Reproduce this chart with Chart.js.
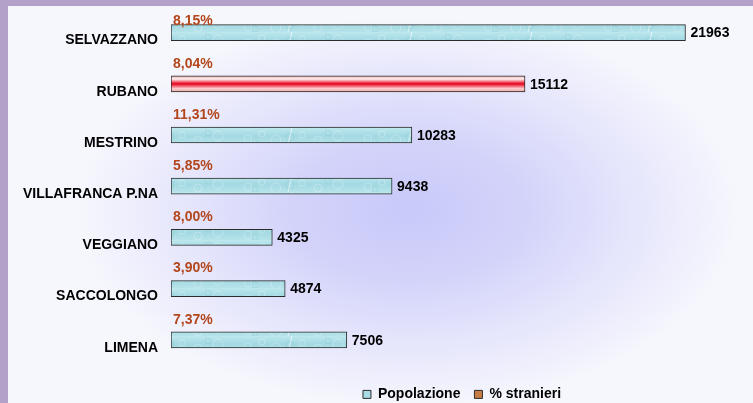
<!DOCTYPE html>
<html>
<head>
<meta charset="utf-8">
<script src="https://cdn.jsdelivr.net/npm/chart.js@4/dist/chart.umd.min.js"></script>
<style>
  html, body { margin: 0; padding: 0; width: 753px; height: 403px; overflow: hidden; background: #b3a1c9; }
  #panel {
    position: absolute; left: 8px; top: 6px; right: 0; bottom: 0;
    background: radial-gradient(ellipse 330px 195px at 400px 205px, #c9c9fa 0%, #d3d3fa 35%, #e4e4fc 65%, #f6f6fd 100%);
  }
  #chart { position: absolute; left: 0; top: 0; }
</style>
</head>
<body>
<div id="panel"></div>
<canvas id="chart" width="753" height="403"></canvas>
<script>
// dati
const categories = ["SELVAZZANO", "RUBANO", "MESTRINO", "VILLAFRANCA P.NA", "VEGGIANO", "SACCOLONGO", "LIMENA"];
const popolazione = [21963, 15112, 10283, 9438, 4325, 4874, 7506];
const stranieri = [8.15, 8.04, 11.31, 5.85, 8.00, 3.90, 7.37];
const pctLabels = stranieri.map(v => v.toFixed(2).replace(".", ",") + "%");
const highlightIndex = 1; // RUBANO

Chart.defaults.font.family = '"Liberation Sans", Arial, sans-serif';

// texture azzurra delle barre
function makeTexture() {
  const c = document.createElement("canvas");
  c.width = 120; c.height = 16;
  const g = c.getContext("2d");
  const grad = g.createLinearGradient(0, 0, 0, 16);
  grad.addColorStop(0, "#bde8ee");
  grad.addColorStop(0.5, "#a3d9e2");
  grad.addColorStop(1, "#b6e3ea");
  g.fillStyle = grad;
  g.fillRect(0, 0, 120, 16);
  g.strokeStyle = "rgba(255,255,255,0.25)";
  g.lineWidth = 1;
  [[8, 11, 4], [22, 6, 3], [36, 12, 5], [62, 7, 3], [78, 12, 4], [98, 8, 5]].forEach(([x, y, r]) => {
    g.beginPath(); g.arc(x, y, r, 0, Math.PI * 2); g.stroke();
  });
  g.strokeStyle = "rgba(130,195,205,0.35)";
  [[15, 13, 3], [50, 9, 4], [88, 5, 3]].forEach(([x, y, r]) => {
    g.beginPath(); g.arc(x, y, r, 0, Math.PI * 2); g.stroke();
  });
  g.strokeStyle = "rgba(255,255,255,0.6)";
  g.beginPath(); g.moveTo(48, 16); g.lineTo(52, 0); g.stroke();
  return g.createPattern(c, "repeat");
}
const texture = makeTexture();

function barFill(ctx) {
  if (ctx.dataIndex !== highlightIndex) return texture;
  const chart = ctx.chart;
  const y = chart.scales.y;
  if (!y || y.top === undefined) return "#e8001a";
  const c = y.getPixelForValue(ctx.dataIndex) - 8;
  const g = chart.ctx.createLinearGradient(0, c - 8, 0, c + 8);
  g.addColorStop(0, "#eaa8a8");
  g.addColorStop(0.2, "#fff2f2");
  g.addColorStop(0.5, "#e8001a");
  g.addColorStop(0.8, "#fbd0d0");
  g.addColorStop(1, "#e9a0a0");
  return g;
}

const labelPlugin = {
  id: "barLabels",
  afterDatasetsDraw(chart) {
    const ctx = chart.ctx;
    const meta = chart.getDatasetMeta(0);
    ctx.save();
    ctx.font = 'bold 14px "Liberation Sans", Arial, sans-serif';
    ctx.textBaseline = "middle";
    ctx.textAlign = "left";
    meta.data.forEach((bar, i) => {
      ctx.fillStyle = "#000";
      ctx.fillText(String(popolazione[i]), bar.x + 5, bar.y + 1);
      ctx.fillStyle = "#b3461c";
      const top = bar.y - bar.height / 2;
      ctx.fillText(pctLabels[i], bar.base + 2, Math.max(top - 12, 21));
    });
    ctx.restore();
  }
};

new Chart(document.getElementById("chart"), {
  type: "bar",
  data: {
    labels: categories,
    datasets: [
      {
        label: "Popolazione",
        data: popolazione,
        backgroundColor: barFill,
        borderColor: "#2b2b2b",
        borderWidth: 1,
        borderSkipped: false,
        barThickness: 16
      },
      {
        label: "% stranieri",
        data: stranieri,
        backgroundColor: "rgba(0,0,0,0)",
        borderWidth: 0,
        barThickness: 16
      }
    ]
  },
  options: {
    indexAxis: "y",
    responsive: false,
    animation: false,
    devicePixelRatio: 1,
    layout: { padding: { left: 8, top: 15, right: 0, bottom: -8.4 } },
    scales: {
      x: { min: 0, max: 24845, display: false },
      y: {
        grid: { display: false, drawTicks: false },
        border: { display: false },
        ticks: { color: "#000", padding: 13, font: { size: 14, weight: "bold" } },
        afterFit: (scale) => {
          scale.width = 163;
          scale.paddingTop = 0;
          scale.paddingBottom = 0;
        }
      }
    },
    plugins: {
      tooltip: { enabled: false },
      legend: {
        position: "bottom",
        fullSize: false,
        labels: {
          boxWidth: 8,
          boxHeight: 8,
          padding: 14,
          color: "#000",
          font: { size: 14, weight: "bold" },
          generateLabels(chart) {
            const items = Chart.defaults.plugins.legend.labels.generateLabels(chart);
            items[0].fillStyle = "#a8dce5";
            items[0].strokeStyle = "#2b2b2b";
            items[0].lineWidth = 1;
            items[1].fillStyle = "#c87d44";
            items[1].strokeStyle = "#2b2b2b";
            items[1].lineWidth = 1;
            return items;
          }
        }
      }
    }
  },
  plugins: [labelPlugin]
});
</script>
</body>
</html>
